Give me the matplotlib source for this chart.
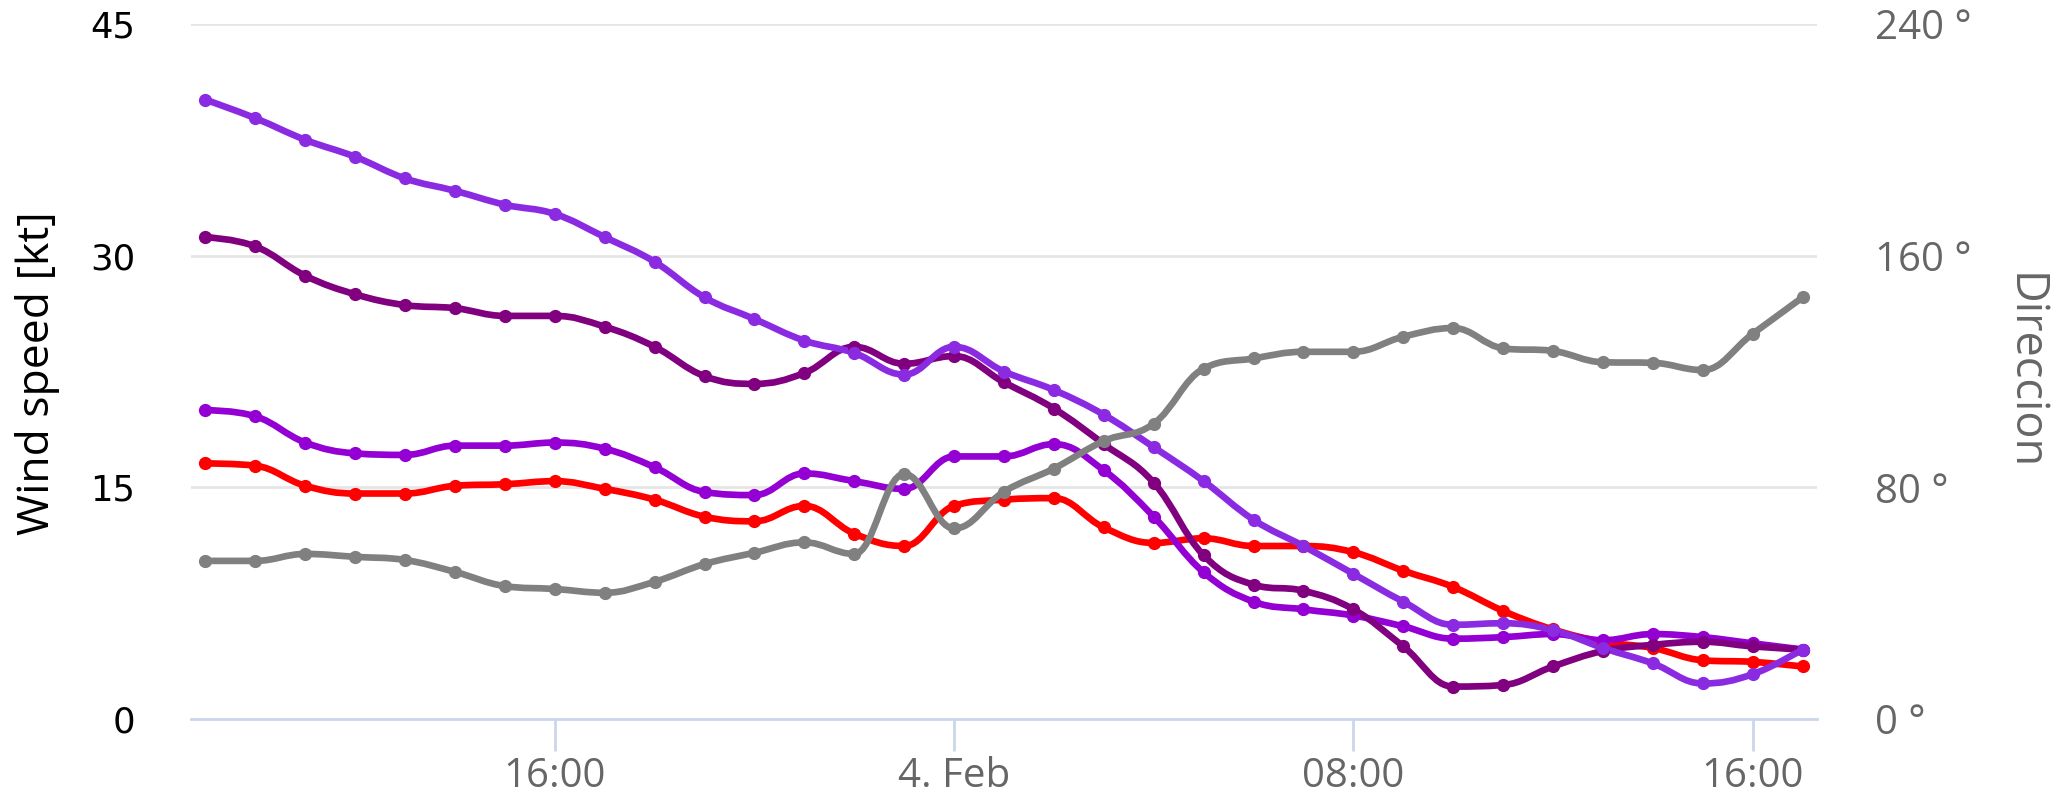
import matplotlib
matplotlib.use("Agg")
import matplotlib.pyplot as plt
import matplotlib.dates as mdates
from matplotlib.path import Path
from matplotlib.patches import PathPatch
from datetime import datetime, timedelta

# hourly forecast, 3 Feb 09:00 -> 4 Feb 17:00
start = datetime(2023, 2, 3, 9)
n_hours = 33
times = [start + timedelta(hours=h) for h in range(n_hours)]

# wind speed series [kt]
speed_a = [40.1, 38.9, 37.5, 36.4, 35.0, 34.2, 33.3, 32.7, 31.2, 29.6, 27.3, 25.9, 24.5, 23.7, 22.3,
           24.1, 22.5, 21.3, 19.7, 17.6, 15.4, 12.9, 11.2, 9.4, 7.6, 6.1, 6.2, 5.75, 4.6, 3.6, 2.3, 2.9, 4.5]
speed_b = [31.2, 30.6, 28.7, 27.5, 26.8, 26.6, 26.1, 26.1, 25.4, 24.1, 22.2, 21.7, 22.4, 24.1, 23.0,
           23.5, 21.8, 20.1, 17.8, 15.3, 10.6, 8.7, 8.3, 7.1, 4.7, 2.1, 2.2, 3.4, 4.4, 4.8, 5.0, 4.7, 4.5]
speed_c = [20.0, 19.6, 17.9, 17.2, 17.1, 17.7, 17.7, 17.9, 17.5, 16.3, 14.7, 14.5, 15.9, 15.4, 14.9,
           17.0, 17.0, 17.8, 16.1, 13.1, 9.5, 7.6, 7.1, 6.7, 6.0, 5.2, 5.3, 5.5, 5.1, 5.5, 5.3, 4.9, 4.5]
speed_d = [16.55, 16.4, 15.1, 14.6, 14.6, 15.1, 15.2, 15.4, 14.9, 14.2, 13.1, 12.8, 13.8, 12.0, 11.2,
           13.8, 14.2, 14.3, 12.4, 11.4, 11.7, 11.2, 11.2, 10.8, 9.6, 8.55, 7.0, 5.8, 5.0, 4.6, 3.8, 3.7, 3.4]

# wind direction [deg]
direction = [54.6, 54.6, 57.0, 56.0, 54.9, 50.8, 45.9, 44.9, 43.6, 47.4, 53.5, 57.4, 61.0, 57.0, 84.6,
             65.8, 78.5, 86.5, 96.0, 102.0, 121.0, 124.5, 126.8, 126.8, 132.0, 135.0, 128.0, 127.1, 123.2,
             123.0, 120.5, 133.0, 145.6]

speed_colors = ["#ff0000", "#9400d3", "#800080", "#8a2be2"]
speed_series = [speed_d, speed_c, speed_b, speed_a]

xtick_times = [datetime(2023, 2, 3, 16), datetime(2023, 2, 4, 0), datetime(2023, 2, 4, 8), datetime(2023, 2, 4, 16)]
xtick_labels = ["16:00", "4. Feb", "08:00", "16:00"]
left_ticks = [0, 15, 30, 45]
right_ticks = [0, 80, 160, 240]
right_labels = ["0 °", "80 °", "160 °", "240 °"]


# highcharts-like spline (bezier control points from neighbours)
def spline_path(xs, ys, smoothing=1.5):
    verts = [(xs[0], ys[0])]
    codes = [Path.MOVETO]
    rc_prev = (xs[0], ys[0])
    n = len(xs)
    for i in range(1, n):
        px, py = xs[i], ys[i]
        if i < n - 1:
            lx, ly = xs[i - 1], ys[i - 1]
            nx, ny = xs[i + 1], ys[i + 1]
            d = smoothing + 1
            lcx = (smoothing * px + lx) / d
            lcy = (smoothing * py + ly) / d
            rcx = (smoothing * px + nx) / d
            rcy = (smoothing * py + ny) / d
            if rcx != lcx:
                corr = (rcy - lcy) * (rcx - px) / (rcx - lcx) + py - rcy
                lcy += corr
                rcy += corr
            if lcy > ly and lcy > py:
                lcy = max(ly, py)
                rcy = 2 * py - lcy
            elif lcy < ly and lcy < py:
                lcy = min(ly, py)
                rcy = 2 * py - lcy
            if rcy > ny and rcy > py:
                rcy = max(ny, py)
                lcy = 2 * py - rcy
            elif rcy < ny and rcy < py:
                rcy = min(ny, py)
                lcy = 2 * py - rcy
            lc, rc = (lcx, lcy), (rcx, rcy)
        else:
            lc, rc = (px, py), (px, py)
        verts += [rc_prev, lc, (px, py)]
        codes += [Path.CURVE4] * 3
        rc_prev = rc
    return Path(verts, codes)


def draw_series(ax, xs, ys, color):
    ax.add_patch(PathPatch(spline_path(xs, ys), facecolor="none", edgecolor=color,
                           lw=4.8, capstyle="round", joinstyle="round"))
    ax.plot(xs, ys, "o", color=color, ms=8.5, mec=color)


x = mdates.date2num(times)
pad_h = 0.29 / 24

fig = plt.figure(figsize=(20.54, 7.94), dpi=100)
ax = fig.add_axes([191 / 2054, 1 - 719 / 794, 1626 / 2054, 695 / 794])

for ys, c in zip(speed_series, speed_colors):
    draw_series(ax, x, ys, c)

ax.set_xlim(x[0] - pad_h, x[-1] + pad_h)
ax.set_ylim(0, 45)
ax.set_yticks(left_ticks)
ax.set_yticklabels([str(t) for t in left_ticks], fontsize=25.5, color="black", family="DejaVu Sans")
ax.grid(axis="y", color="#e6e6e6", lw=2)
ax.set_axisbelow(True)
ax.set_xticks(mdates.date2num(xtick_times))
ax.set_xticklabels(xtick_labels, fontsize=29, color="#666666", family="Open Sans")
ax.tick_params(axis="x", length=23, width=2, color="#ccd6eb", pad=4)
ax.tick_params(axis="y", length=0, pad=40)
for s in ["top", "right", "left"]:
    ax.spines[s].set_visible(False)
ax.spines["bottom"].set_color("#ccd6eb")
ax.spines["bottom"].set_linewidth(2)

ax2 = ax.twinx()
draw_series(ax2, x, direction, "#808080")
ax2.set_ylim(0, 240)
ax2.set_yticks(right_ticks)
ax2.set_yticklabels(right_labels, fontsize=29, color="#666666", family="Open Sans")
ax2.tick_params(axis="y", length=0, pad=42)
for s in ax2.spines.values():
    s.set_visible(False)

# axis titles
fig.text(38 / 2054, 1 - 373 / 794, "Wind speed [kt]", rotation=90, ha="center", va="center",
         fontsize=32, color="black", family="Open Sans")
fig.text(2024 / 2054, 1 - 372 / 794, "Direccion", rotation=270, ha="center", va="center",
         fontsize=32.5, color="#666666", family="Open Sans")

fig.savefig("out.png", dpi=100)
